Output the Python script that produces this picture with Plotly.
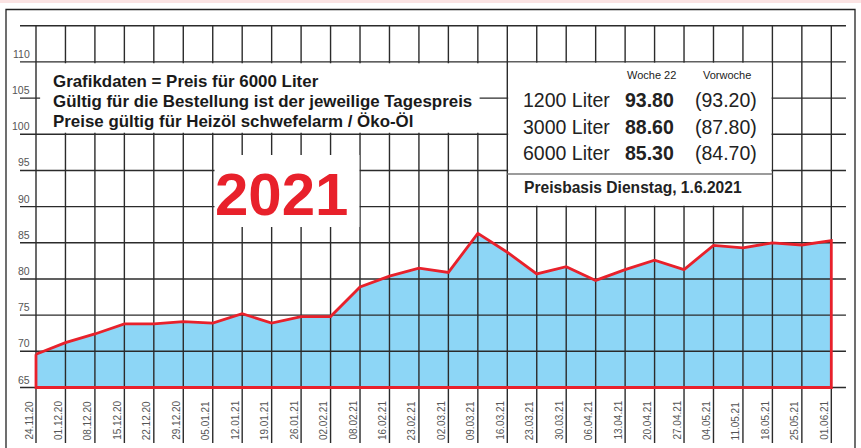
import plotly.graph_objects as go

# ---------------- data ----------------
dates = ["24.11.20", "01.12.20", "08.12.20", "15.12.20", "22.12.20", "29.12.20",
         "05.01.21", "12.01.21", "19.01.21", "26.01.21", "02.02.21", "08.02.21",
         "16.02.21", "23.02.21", "02.03.21", "09.03.21", "16.03.21", "23.03.21",
         "30.03.21", "06.04.21", "13.04.21", "20.04.21", "27.04.21", "04.05.21",
         "11.05.21", "18.05.21", "25.05.21", "01.06.21"]
prices = [69.6, 71.2, 72.4, 73.8, 73.8, 74.1, 73.9, 75.2, 73.9, 74.8, 74.8, 78.9,
          80.4, 81.5, 80.9, 86.3, 83.7, 80.7, 81.7, 79.8, 81.3, 82.6, 81.3, 84.65,
          84.3, 85.0, 84.7, 85.3]
y_ticks = [65, 70, 75, 80, 85, 90, 95, 100, 105, 110]
Y_MIN, Y_TOP = 65, 115

liters = ["1200 Liter", "3000 Liter", "6000 Liter"]
week_prices = ["93.80", "88.60", "85.30"]
prev_prices = ["(93.20)", "(87.80)", "(84.70)"]
col_week = "Woche 22"
col_prev = "Vorwoche"
basis_text = "Preisbasis Dienstag, 1.6.2021"
info_lines = ["Grafikdaten = Preis für 6000 Liter",
              "Gültig für die Bestellung ist der jeweilige Tagespreis",
              "Preise gültig für Heizöl schwefelarm / Öko-Öl"]
year_text = "2021"

# ---------------- layout geometry ----------------
W, H = 861, 448
ML, MR, MT, MB = 20, 14, 24, 5
PW, PH = W - ML - MR, H - MT - MB
XPX = 29.456          # pixels per week
YPX = 7.235           # pixels per price unit
X0PX, Y65PX = 36, 387.5
x_lo = -(X0PX - ML) / XPX
x_hi = x_lo + PW / XPX
y_lo = Y_MIN - (H - MB - Y65PX) / YPX
y_hi = Y_MIN + (Y65PX - MT) / YPX


def fx(p):
    return (p - ML) / PW


def fy(p):
    return 1 - (p - MT) / PH


RED = "#E8212B"
BLUE = "#8DD6F6"
GRID = "#2b2b2b"
SANS = "Liberation Sans, Arial, Helvetica, sans-serif"

idx = list(range(len(dates)))
last = idx[-1]

fig = go.Figure()

# filled area
fig.add_trace(go.Scatter(
    x=idx + [last, 0], y=prices + [Y_MIN, Y_MIN],
    fill="toself", fillcolor=BLUE, mode="lines",
    line=dict(width=0, color=BLUE), hoverinfo="skip"))

# grid lines (drawn above the fill)
gx, gy = [], []
for v in list(range(Y_MIN, Y_TOP + 1, 5)):
    gx += [x_lo, x_hi - 0.035, None]
    gy += [v, v, None]
for i in idx:
    gx += [i, i, None]
    gy += [y_lo, Y_TOP, None]
fig.add_trace(go.Scatter(x=gx, y=gy, mode="lines",
                         line=dict(color=GRID, width=1.4), hoverinfo="skip"))

# red outline of the area
fig.add_trace(go.Scatter(
    x=idx + [last, 0, 0], y=prices + [Y_MIN, Y_MIN, prices[0]],
    mode="lines", line=dict(color=RED, width=2.8), hoverinfo="skip"))

shapes = []
# white panels
shapes.append(dict(type="rect", xref="x", yref="y", x0=0.14, x1=15.06, y0=100.2, y1=109.8,
                   fillcolor="white", line=dict(width=0), layer="above"))
shapes.append(dict(type="rect", xref="x", yref="y", x0=6.06, x1=10.98, y0=87.2, y1=97.15,
                   fillcolor="white", line=dict(width=0), layer="above"))
shapes.append(dict(type="rect", xref="x", yref="y", x0=16.03, x1=24.97, y0=90.12, y1=109.88,
                   fillcolor="white", line=dict(width=0), layer="above"))
shapes.append(dict(type="line", xref="x", yref="y", x0=16, x1=25, y0=94.5, y1=94.5,
                   line=dict(color="#7a7a7a", width=1.6), layer="above"))
# outer frame and top strip
shapes.append(dict(type="rect", xref="paper", yref="paper", x0=fx(6), x1=fx(855),
                   y0=fy(460), y1=fy(9.5), line=dict(color="#222", width=1.3),
                   fillcolor="rgba(0,0,0,0)", layer="above"))
shapes.append(dict(type="rect", xref="paper", yref="paper", x0=fx(0), x1=fx(W),
                   y0=fy(3), y1=fy(0), line=dict(width=0), fillcolor="#FBE3E3", layer="above"))

ann = []
# y tick labels
for v in y_ticks:
    ann.append(dict(text=str(v), xref="paper", yref="y", x=0, y=v, xshift=12,
                    xanchor="right", yanchor="bottom", yshift=0, showarrow=False,
                    font=dict(family=SANS, size=10.5, color="#555")))
# x tick labels
for i, d in zip(idx, dates):
    ann.append(dict(text=d, xref="x", yref="paper", x=i, y=0, xshift=-7, yshift=1,
                    xanchor="center", yanchor="bottom", textangle=-90, showarrow=False,
                    font=dict(family=SANS, size=10, color="#555")))
# left info text
for line, yp in zip(info_lines, [81.7, 101.7, 121.5]):
    ann.append(dict(text="<b>%s</b>" % line, xref="paper", yref="paper", x=fx(51), y=fy(yp),
                    xanchor="left", yanchor="middle", showarrow=False,
                    font=dict(family=SANS, size=16.9, color="#1a1a1a")))
# year
ann.append(dict(text="<b>%s</b>" % year_text, xref="paper", yref="paper", x=fx(281), y=fy(194),
                xanchor="center", yanchor="middle", showarrow=False,
                font=dict(family=SANS, size=60, color=RED)))
# info box
ann.append(dict(text=col_week, xref="paper", yref="paper", x=fx(651), y=fy(75),
                xanchor="center", yanchor="middle", showarrow=False,
                font=dict(family=SANS, size=11, color="#222")))
ann.append(dict(text=col_prev, xref="paper", yref="paper", x=fx(727), y=fy(75),
                xanchor="center", yanchor="middle", showarrow=False,
                font=dict(family=SANS, size=11, color="#222")))
for lt, wp, pp, yp in zip(liters, week_prices, prev_prices, [100.5, 126.5, 152.5]):
    ann.append(dict(text=lt, xref="paper", yref="paper", x=fx(521), y=fy(yp),
                    xanchor="left", yanchor="middle", showarrow=False,
                    font=dict(family=SANS, size=19.5, color="#222")))
    ann.append(dict(text="<b>%s</b>" % wp, xref="paper", yref="paper", x=fx(676), y=fy(yp),
                    xanchor="right", yanchor="middle", showarrow=False,
                    font=dict(family=SANS, size=19.5, color="#222")))
    ann.append(dict(text=pp, xref="paper", yref="paper", x=fx(759), y=fy(yp),
                    xanchor="right", yanchor="middle", showarrow=False,
                    font=dict(family=SANS, size=19.5, color="#222")))
ann.append(dict(text="<b>%s</b>" % basis_text, xref="paper", yref="paper", x=fx(522), y=fy(187.5),
                xanchor="left", yanchor="middle", showarrow=False,
                font=dict(family=SANS, size=15.6, color="#222")))

fig.update_layout(
    width=W, height=H,
    margin=dict(l=ML, r=MR, t=MT, b=MB),
    paper_bgcolor="white", plot_bgcolor="white",
    showlegend=False,
    xaxis=dict(visible=False, range=[x_lo, x_hi], fixedrange=True),
    yaxis=dict(visible=False, range=[y_lo, y_hi], fixedrange=True),
    shapes=shapes, annotations=ann,
)

fig.write_html("out.html", config=dict(displayModeBar=False),
               post_script="document.body.style.margin='0px';"
                           "document.body.style.overflow='hidden';")
